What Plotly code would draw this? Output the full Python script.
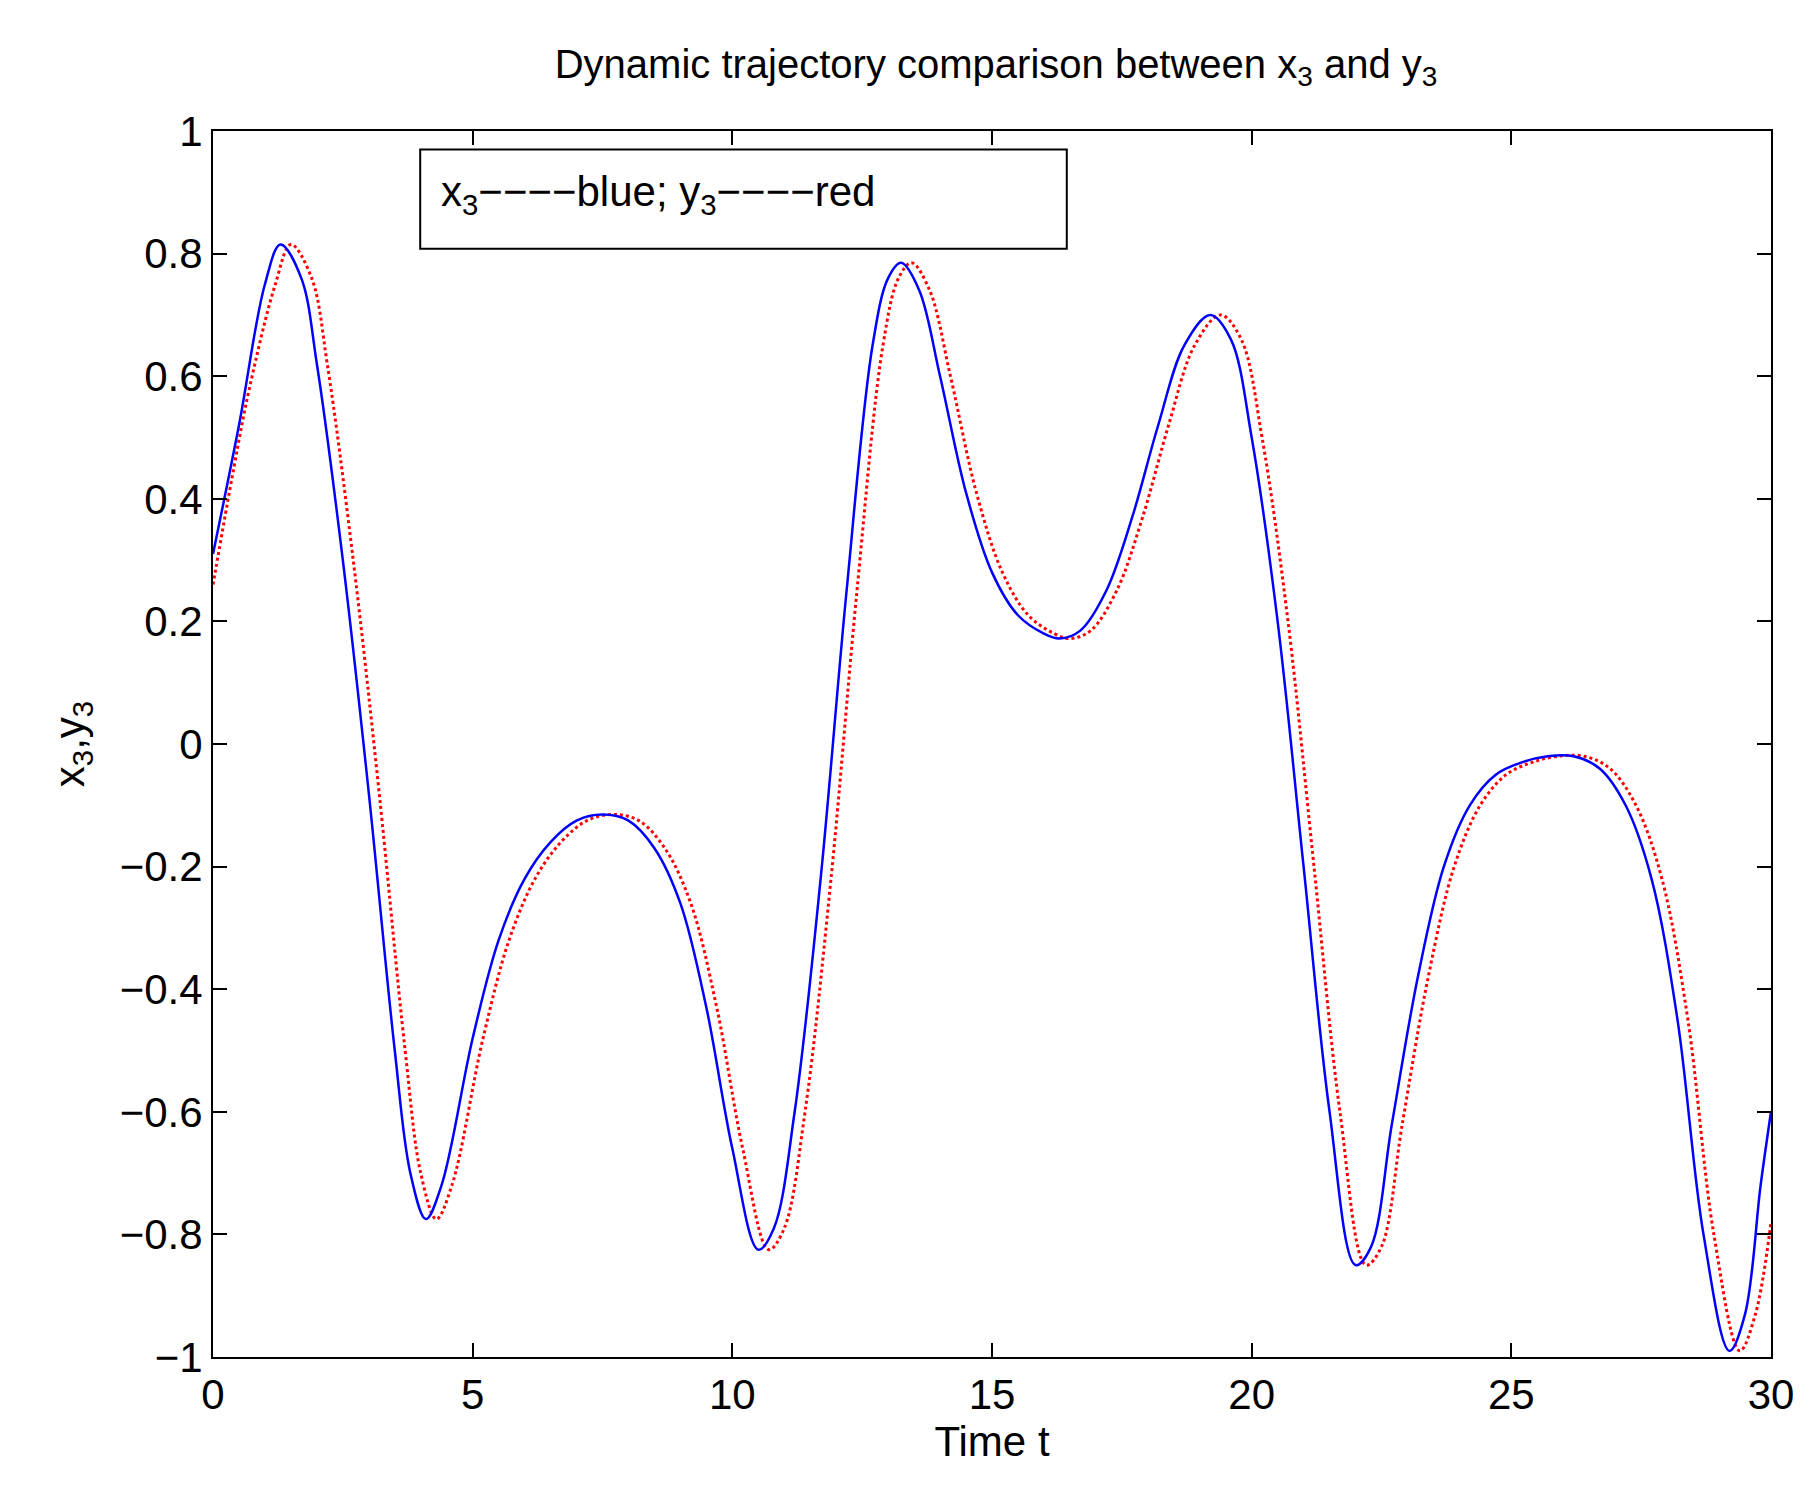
import plotly.graph_objects as go

# blue trajectory x3
t_x3 = [0, 0.5, 1.0, 1.3, 1.7, 2.0, 2.5, 3.0, 3.5, 3.8, 4.1, 4.4, 5.0, 5.5, 6.0, 6.5, 7.0, 7.5, 8.0, 8.5,
        9.0, 9.5, 10.0, 10.5, 10.8, 11.2, 11.7, 12.2, 12.7, 13.0, 13.25, 13.6, 14.0, 14.5, 15.0, 15.5,
        16.0, 16.3, 16.7, 17.2, 17.7, 18.2, 18.7, 19.2, 19.6, 20.0, 20.5, 21.0, 21.5, 22.0, 22.3, 22.7,
        23.2, 23.7, 24.2, 24.7, 25.2, 25.7, 26.2, 26.7, 27.2, 27.7, 28.2, 28.7, 29.2, 29.5, 29.8, 30.0]
x3 = [0.31, 0.52, 0.75, 0.815, 0.76, 0.62, 0.30, -0.08, -0.50, -0.70, -0.775, -0.72, -0.48, -0.32, -0.22,
      -0.16, -0.125, -0.115, -0.125, -0.17, -0.26, -0.43, -0.66, -0.825, -0.79, -0.60, -0.22, 0.25, 0.65,
      0.76, 0.785, 0.74, 0.60, 0.41, 0.28, 0.21, 0.18, 0.172, 0.185, 0.25, 0.37, 0.52, 0.65, 0.70, 0.66,
      0.50, 0.20, -0.20, -0.60, -0.85, -0.82, -0.62, -0.38, -0.20, -0.10, -0.05, -0.03, -0.02, -0.02,
      -0.04, -0.10, -0.22, -0.45, -0.80, -0.99, -0.93, -0.72, -0.60]

# red trajectory y3 (lags slightly)
t_y3 = [0, 0.4, 0.7, 1.2, 1.5, 1.9, 2.2, 2.7, 3.2, 3.7, 4.0, 4.3, 4.6, 5.2, 5.7, 6.2, 6.7, 7.2, 7.7, 8.2,
        8.7, 9.2, 9.7, 10.2, 10.7, 11.0, 11.4, 11.9, 12.4, 12.9, 13.2, 13.45, 13.8, 14.2, 14.7, 15.2, 15.7,
        16.2, 16.5, 16.9, 17.4, 17.9, 18.4, 18.9, 19.4, 19.8, 20.2, 20.7, 21.2, 21.7, 22.2, 22.5, 22.9,
        23.4, 23.9, 24.4, 24.9, 25.4, 25.9, 26.4, 26.9, 27.4, 27.9, 28.4, 28.9, 29.4, 29.7, 30.0]
y3 = [0.26, 0.45, 0.58, 0.75, 0.815, 0.76, 0.62, 0.30, -0.08, -0.50, -0.70, -0.775, -0.72, -0.48, -0.32,
      -0.22, -0.16, -0.125, -0.115, -0.125, -0.17, -0.26, -0.43, -0.66, -0.825, -0.79, -0.60, -0.22, 0.25,
      0.65, 0.76, 0.785, 0.74, 0.60, 0.41, 0.28, 0.21, 0.18, 0.172, 0.185, 0.25, 0.37, 0.52, 0.65, 0.70,
      0.66, 0.50, 0.20, -0.20, -0.60, -0.85, -0.82, -0.62, -0.38, -0.20, -0.10, -0.05, -0.03, -0.02, -0.02,
      -0.04, -0.10, -0.22, -0.45, -0.80, -0.99, -0.93, -0.78]

font = "Liberation Sans, Arial, sans-serif"

fig = go.Figure()
fig.add_trace(go.Scatter(x=t_y3, y=y3, mode='lines', line=dict(color='red', width=3, dash='dot', shape='spline')))
fig.add_trace(go.Scatter(x=t_x3, y=x3, mode='lines', line=dict(color='blue', width=2.5, shape='spline')))

axis = dict(showgrid=False, zeroline=False, showline=True, linecolor='black', linewidth=2,
            mirror='ticks', ticks='inside', ticklen=14, tickwidth=2, tickcolor='black',
            tickfont=dict(size=42, color='black'))

fig.update_layout(
    width=1803, height=1487,
    paper_bgcolor='white', plot_bgcolor='white',
    font=dict(family=font, color='black'),
    showlegend=False,
    margin=dict(l=205, r=40, t=123, b=138),
    title=dict(text='Dynamic trajectory comparison between x<sub>3</sub> and y<sub>3</sub>',
               x=0.548, xanchor='center', y=0.972, font=dict(size=40)),
    xaxis=dict(axis, range=[0, 30], dtick=5,
               title=dict(text='Time t', font=dict(size=42), standoff=8)),
    yaxis=dict(axis, range=[-1, 1], dtick=0.2,
               title=dict(text='x<sub>3</sub>,y<sub>3</sub>', font=dict(size=42), standoff=22)),
)

fig.add_shape(type='rect', xref='paper', yref='paper', x0=0.133, x1=0.548, y0=0.904, y1=0.985,
              line=dict(color='black', width=2), fillcolor='white')
fig.add_annotation(xref='paper', yref='paper', x=0.145, y=0.948, xanchor='left', yanchor='middle',
                   showarrow=False, font=dict(size=42),
                   text='x<sub>3</sub>\u2212\u2212\u2212\u2212blue; y<sub>3</sub>\u2212\u2212\u2212\u2212red')

fig.write_html("out.html")
